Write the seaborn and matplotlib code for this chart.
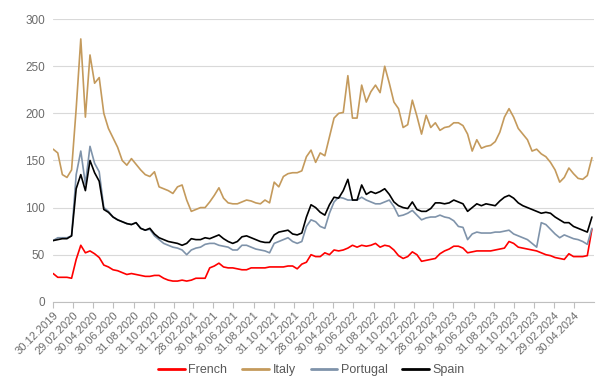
import matplotlib
matplotlib.use("Agg")
import matplotlib.pyplot as plt
import seaborn as sns
import pandas as pd

# ---- data (bps, sampled every 14 days from 30.12.2019) ----
start_date = "2019-12-30"

french = [30, 26, 26, 26, 25, 45, 60, 52, 54, 51, 47, 39, 37, 34, 33, 31, 29, 30, 29, 28,
          27, 27, 28, 28, 25, 23, 22, 22, 23, 22, 23, 25, 25, 25, 36, 38, 41, 37, 36, 36,
          35, 34, 34, 36, 36, 36, 36, 37, 37, 37, 37, 38, 38, 35, 40, 42, 50, 48, 48, 52,
          50, 55, 54, 55, 57, 60, 58, 60, 59, 60, 62, 58, 60, 59, 55, 49, 46, 48, 53, 50,
          43, 44, 45, 46, 51, 54, 56, 59, 59, 57, 52, 53, 54, 54, 54, 54, 55, 56, 57, 64,
          62, 58, 57, 56, 55, 54, 52, 50, 49, 47, 46, 45, 51, 48, 48, 48, 49, 77]

italy = [162, 158, 135, 132, 140, 205, 279, 196, 262, 232, 238, 200, 184, 174, 164, 150, 145, 152, 146, 140,
         135, 133, 138, 122, 120, 118, 115, 122, 124, 108, 96, 98, 100, 100, 106, 113, 121, 110, 105, 104,
         104, 106, 108, 107, 105, 104, 108, 105, 127, 122, 133, 136, 137, 137, 139, 154, 161, 148, 158, 155,
         175, 195, 200, 201, 240, 195, 195, 230, 212, 223, 230, 222, 250, 232, 212, 205, 185, 188, 214, 197,
         178, 198, 185, 190, 182, 185, 186, 190, 190, 187, 178, 160, 172, 163, 165, 166, 170, 180, 196, 205,
         196, 184, 178, 172, 160, 162, 157, 154, 148, 140, 127, 132, 142, 136, 131, 130, 134, 153]

portugal = [65, 68, 68, 68, 70, 135, 160, 125, 165, 147, 138, 100, 96, 90, 87, 85, 83, 82, 84, 78,
            76, 77, 70, 66, 62, 60, 58, 57, 55, 50, 55, 57, 58, 61, 62, 62, 60, 59, 58, 55,
            55, 60, 60, 58, 56, 55, 54, 52, 62, 64, 66, 68, 64, 62, 64, 80, 87, 85, 80, 78,
            94, 106, 111, 110, 108, 108, 108, 111, 108, 106, 104, 104, 106, 108, 101, 91, 92, 94, 97, 92,
            87, 89, 90, 90, 92, 90, 89, 86, 80, 79, 66, 72, 74, 73, 73, 73, 74, 74, 75, 76,
            72, 70, 68, 66, 62, 58, 84, 82, 77, 72, 68, 71, 69, 67, 66, 64, 61, 78]

spain = [65, 66, 67, 67, 70, 120, 135, 118, 150, 137, 128, 98, 95, 90, 87, 85, 83, 82, 84, 78,
         76, 78, 72, 68, 66, 64, 63, 62, 60, 62, 67, 66, 66, 68, 67, 69, 71, 67, 64, 62,
         64, 69, 70, 68, 66, 64, 63, 63, 71, 74, 75, 76, 72, 71, 73, 90, 103, 100, 95, 92,
         103, 111, 110, 118, 130, 108, 108, 124, 114, 117, 115, 117, 120, 114, 106, 102, 100, 99, 106, 98,
         96, 96, 99, 105, 105, 104, 105, 108, 106, 104, 96, 100, 104, 102, 104, 103, 102, 107, 111, 113,
         110, 105, 102, 100, 98, 96, 94, 95, 94, 90, 87, 84, 84, 80, 78, 76, 74, 90]

series_names = ["French", "Italy", "Portugal", "Spain"]
series_colors = ["#ff0000", "#c49a5c", "#7f93aa", "#000000"]

tick_dates = ["2019-12-30", "2020-02-29", "2020-04-30", "2020-06-30", "2020-08-31", "2020-10-31",
              "2020-12-31", "2021-02-28", "2021-04-30", "2021-06-30", "2021-08-31", "2021-10-31",
              "2021-12-31", "2022-02-28", "2022-04-30", "2022-06-30", "2022-08-31", "2022-10-31",
              "2022-12-31", "2023-02-28", "2023-04-30", "2023-06-30", "2023-08-31", "2023-10-31",
              "2023-12-31", "2024-02-29", "2024-04-30"]
y_ticks = [0, 50, 100, 150, 200, 250, 300]

# ---- build long table ----
dates = pd.date_range(start_date, periods=len(french), freq="14D")
wide = pd.DataFrame({"date": dates, "French": french, "Italy": italy,
                     "Portugal": portugal, "Spain": spain})
long = wide.melt(id_vars="date", var_name="country", value_name="spread")

sns.set_style("white")
plt.rcParams["font.family"] = ["Liberation Sans", "DejaVu Sans"]

fig, ax = plt.subplots(figsize=(6.11, 3.83), dpi=100)
fig.subplots_adjust(left=0.087, right=0.972, top=0.95, bottom=0.212)

sns.lineplot(data=long, x="date", y="spread", hue="country", hue_order=series_names,
             palette=dict(zip(series_names, series_colors)), linewidth=1.2, ax=ax, legend=False)

ax.set_ylim(0, 300)
ax.set_yticks(y_ticks)
ax.set_xlim(pd.Timestamp("2019-12-30"), pd.Timestamp("2024-06-30"))
tick_ts = pd.to_datetime(tick_dates)
ax.set_xticks(tick_ts)
ax.set_xticklabels([t.strftime("%d.%m.%Y") for t in tick_ts], rotation=45, ha="right",
                   rotation_mode="anchor", fontsize=8, color="#6b6b6b")
ax.tick_params(axis="y", labelsize=8.5, labelcolor="#6b6b6b", length=0, pad=6)
ax.tick_params(axis="x", length=4, width=0.8, color="#bfbfbf", pad=2, bottom=True)
ax.set_xlabel("")
ax.set_ylabel("")
ax.grid(axis="y", color="#d9d9d9", linewidth=0.8)
ax.grid(axis="x", visible=False)
for s in ["top", "right", "left"]:
    ax.spines[s].set_visible(False)
ax.spines["bottom"].set_color("#bfbfbf")
ax.spines["bottom"].set_linewidth(0.8)

handles = [plt.Line2D([], [], color=c, linewidth=2) for c in series_colors]
fig.legend(handles, series_names, loc="center", bbox_to_anchor=(0.51, 0.034), ncol=4,
           frameon=False, fontsize=9, handlelength=2.1, handletextpad=0.3,
           columnspacing=1.2, labelcolor="#595959")

fig.savefig("out.png", dpi=100)
